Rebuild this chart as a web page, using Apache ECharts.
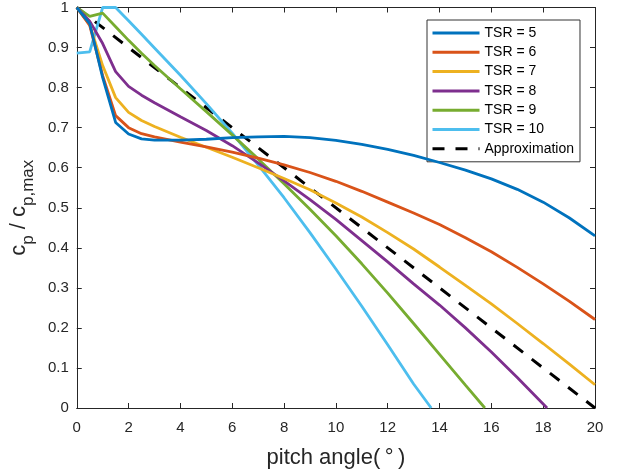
<!DOCTYPE html>
<html>
<head>
<meta charset="utf-8">
<script src="https://cdn.jsdelivr.net/npm/echarts@6/dist/echarts.min.js"></script>
<style>
html,body{margin:0;padding:0;background:#fff;}
#chart{width:620px;height:474px;}
</style>
</head>
<body>
<div id="chart"></div>
<script>
// ---- data ----
const xGrid = [0,0.5,1,1.5,2,2.5,3,4,5,6,7,8,9,10,11,12,13,14,15,16,17,18,19,20];
const tsr5 = [1,0.96,0.825,0.713,0.684,0.672,0.669,0.669,0.671,0.675,0.677,0.678,0.675,0.668,0.658,0.646,0.631,0.613,0.594,0.572,0.546,0.514,0.475,0.43];
const tsr6 = [1,0.955,0.83,0.73,0.7,0.685,0.677,0.664,0.652,0.639,0.624,0.607,0.588,0.566,0.541,0.514,0.487,0.458,0.425,0.39,0.351,0.31,0.267,0.221];
const tsr7 = [1,0.957,0.855,0.775,0.738,0.718,0.703,0.676,0.651,0.626,0.6,0.573,0.545,0.512,0.477,0.438,0.397,0.352,0.306,0.26,0.211,0.161,0.11,0.058];
const tsr8X = [0,0.5,1,1.5,2,2.5,3,4,5,6,7,8,9,10,11,12,13,14,15,16,17,18,18.15];
const tsr8 = [1,0.966,0.91,0.84,0.803,0.781,0.762,0.727,0.693,0.655,0.612,0.567,0.52,0.471,0.418,0.365,0.31,0.257,0.2,0.14,0.076,0.01,0];
const tsr9X = [0,0.5,1,1.5,2,2.5,3,4,5,6,7,8,9,10,11,12,13,14,15,15.75];
const tsr9 = [1,0.978,0.986,0.952,0.918,0.886,0.855,0.797,0.74,0.682,0.622,0.56,0.496,0.43,0.36,0.287,0.211,0.134,0.057,0];
const tsr10X = [0,0.5,1,1.5,2,2.5,3,4,5,6,7,8,9,10,11,12,13,13.68];
const tsr10 = [0.886,0.889,1,1,0.967,0.933,0.899,0.831,0.76,0.686,0.607,0.525,0.438,0.347,0.254,0.158,0.06,0];
const approxX = [0,20];
const approx = [1,0];
const seriesNames = ['TSR = 5','TSR = 6','TSR = 7','TSR = 8','TSR = 9','TSR = 10','Approximation'];
const colors = ['#0072BD','#D95319','#EDB120','#7E2F8E','#77AC30','#4DBEEE','#000000'];
const xTicks = {min:0,max:20,interval:2};
const yTicks = {min:0,max:1,interval:0.1};

const pairs = (xs, ys) => xs.map((x,i)=>[x, ys[i]]);
const seriesData = [
  pairs(xGrid,tsr5), pairs(xGrid,tsr6), pairs(xGrid,tsr7),
  pairs(tsr8X,tsr8), pairs(tsr9X,tsr9), pairs(tsr10X,tsr10), pairs(approxX,approx)
];

const FONT = 'Liberation Sans, Arial, Helvetica, sans-serif';
const axisCol = '#262626';

const chart = echarts.init(document.getElementById('chart'), null, {renderer:'canvas'});
const series = seriesData.map((d,i)=>({
  name: seriesNames[i],
  type: 'line',
  data: d,
  xAxisIndex: 0, yAxisIndex: 0,
  symbol: 'none',
  smooth: false,
  clip: true,
  animation: false,
  color: colors[i],
  lineStyle: {width: i===6 ? 3 : 2.8, color: colors[i], type: i===6 ? [12,11] : 'solid'},
  z: 10 - i
}));

chart.setOption({
  animation: false,
  backgroundColor: '#fff',
  grid: {left:75, right:25, top:4, bottom:62, containLabel:false},
  legend: {
    orient: 'vertical', left: 427, top: 20,
    data: seriesNames,
    itemWidth: 47, itemHeight: 14, itemGap: 5.3,
    padding: [6,6,6,4],
    borderColor: '#333', borderWidth: 1, backgroundColor: '#fff',
    itemStyle: {opacity: 0},
    lineStyle: {width: 3},
    textStyle: {fontFamily: FONT, fontSize: 14, color: '#000', lineHeight: 14}
  },
  xAxis: [{
    type: 'value', position: 'bottom', ...xTicks,
    name: 'pitch angle(\u2009°\u2009)', nameLocation: 'middle', nameGap: 39,
    nameTextStyle: {fontFamily: FONT, fontSize: 22, color: axisCol},
    axisLine: {show: true, lineStyle: {color: axisCol, width: 1}},
    axisTick: {show: true, inside: true, length: 5, lineStyle: {color: axisCol}},
    axisLabel: {fontFamily: FONT, fontSize: 15, color: axisCol, margin: 12},
    splitLine: {show: false}
  },{
    type: 'value', position: 'top', ...xTicks,
    axisLine: {show: true, onZero: false, lineStyle: {color: axisCol, width: 1}},
    axisTick: {show: true, inside: true, length: 5, lineStyle: {color: axisCol}},
    axisLabel: {show: false}, splitLine: {show: false}
  }],
  yAxis: [{
    type: 'value', position: 'left', ...yTicks,
    name: '{n|c}{s|p}{n| / c}{s|p,max}', nameLocation: 'middle', nameGap: 38, nameRotate: 90,
    nameTextStyle: {
      fontFamily: FONT, color: axisCol,
      rich: {
        n: {fontFamily: FONT, fontSize: 22, color: axisCol, lineHeight: 36, verticalAlign: 'middle'},
        s: {fontFamily: FONT, fontSize: 17, color: axisCol, lineHeight: 17, verticalAlign: 'bottom'}
      }
    },
    axisLine: {show: true, onZero: false, lineStyle: {color: axisCol, width: 1}},
    axisTick: {show: true, inside: true, length: 5, lineStyle: {color: axisCol}},
    axisLabel: {fontFamily: FONT, fontSize: 15, color: axisCol, margin: 8},
    splitLine: {show: false}
  },{
    type: 'value', position: 'right', ...yTicks,
    axisLine: {show: true, onZero: false, lineStyle: {color: axisCol, width: 1}},
    axisTick: {show: true, inside: true, length: 5, lineStyle: {color: axisCol}},
    axisLabel: {show: false}, splitLine: {show: false}
  }],
  series: series
});
</script>
</body>
</html>
